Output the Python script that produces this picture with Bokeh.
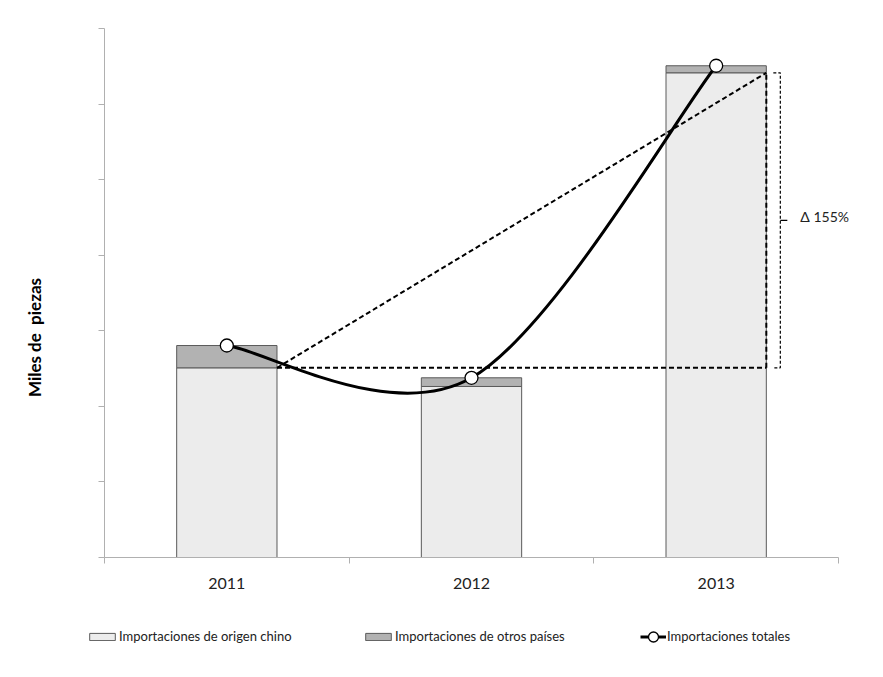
from bokeh.plotting import figure
from bokeh.models import Range1d, FixedTicker, Legend, LegendItem, Label
from bokeh.embed import file_html
from bokeh.resources import INLINE
from bokeh.core.properties import value
import math

# ---- data ----
years = ["2011", "2012", "2013"]
chino = [2510, 2263, 6414]          # Importaciones de origen chino
otros = [295, 115, 93]              # Importaciones de otros países
y_ticks = [0, 1000, 2000, 3000, 4000, 5000, 6000, 7000]
delta_text = "Δ 155%"
y_label = "Miles de\u00a0 piezas"

FONT = "Lato"
totals = [c + o for c, o in zip(chino, otros)]
n = len(years)
centers = [i + 0.5 for i in range(n)]
bounds = [float(i) for i in range(n + 1)]
bar_w = 0.41

# ---- layout (pixels) ----
FL, FT, FR, FB = 12, 4, 860, 652       # plotting frame edges
AXL, AXR, AXB, AXT = 104, 838, 557, 28  # where the drawn axes sit
px_x = (AXR - AXL) / n                  # px per category
px_y = (AXB - AXT) / (y_ticks[-1] - y_ticks[0])
x_range = Range1d((FL - AXL) / px_x, (FR - AXL) / px_x)
y_range = Range1d(y_ticks[0] - (FB - AXB) / px_y, y_ticks[0] + (AXB - FT) / px_y)

p = figure(frame_width=FR - FL, frame_height=FB - FT, x_range=x_range, y_range=y_range,
           output_backend="svg", toolbar_location=None,
           min_border_left=FL, min_border_right=7, min_border_top=FT, min_border_bottom=8)
p.grid.visible = False
p.outline_line_color = None
p.background_fill_color = "white"

ax_col = "#b0b0b0"
# y axis drawn at x = 0
p.yaxis.fixed_location = 0
p.yaxis.bounds = (y_ticks[0], y_ticks[-1])
p.yaxis.ticker = FixedTicker(ticks=y_ticks, minor_ticks=[])
p.yaxis.major_label_overrides = {t: "" for t in y_ticks}
p.yaxis.major_label_text_font_size = "1px"
p.yaxis.major_label_standoff = 0
p.yaxis.major_tick_out = 6
p.yaxis.major_tick_in = 0
p.yaxis.minor_tick_out = 0
p.yaxis.axis_line_color = ax_col
p.yaxis.major_tick_line_color = ax_col

# x axis drawn at y = 0
p.xaxis.fixed_location = 0
p.xaxis.bounds = (0, n)
p.xaxis.ticker = FixedTicker(ticks=centers, minor_ticks=bounds)
p.xaxis.major_label_overrides = {c: "" for c in centers}
p.xaxis.major_label_text_font_size = "1px"
p.xaxis.major_label_standoff = 0
p.xaxis.major_tick_out = 0
p.xaxis.major_tick_in = 0
p.xaxis.minor_tick_out = 6
p.xaxis.minor_tick_in = 0
p.xaxis.axis_line_color = ax_col
p.xaxis.minor_tick_line_color = ax_col

# category labels
p.text(x=centers, y=[y_ticks[0] - 26 / px_y] * n, text=years, text_font=value(FONT),
       text_font_size="16px", text_align="center", text_baseline="middle", text_color="#222222")

# y title
p.add_layout(Label(x=(34 - AXL) / px_x, y=(AXB - 337) / px_y, text=y_label, angle=math.pi / 2,
                   text_align="center", text_baseline="middle", text_font=FONT,
                   text_font_size="17px", text_font_style="bold", text_color="black"))

# bars
r_chino = p.vbar(x=centers, width=bar_w, bottom=0, top=chino,
                 fill_color="#ececec", line_color="#5a5a5a", line_width=1)
r_otros = p.vbar(x=centers, width=bar_w, bottom=chino, top=totals,
                 fill_color="#b2b2b2", line_color="#5a5a5a", line_width=1)

# dashed comparison lines (2011 vs 2013 Chinese imports)
xr0 = centers[0] + bar_w / 2
xr2 = centers[-1] + bar_w / 2
p.segment(x0=[xr0, xr0, xr2], y0=[chino[0], chino[0], chino[0]],
          x1=[xr2, xr2, xr2], y1=[chino[0], chino[-1], chino[-1]],
          line_color="black", line_width=2, line_dash="5 3")

# bracket
bx0 = xr2 + 7 / px_x
bx1 = xr2 + 14 / px_x
bx2 = xr2 + 21 / px_x
ymid = (chino[0] + chino[-1]) / 2
p.line(x=[bx0, bx1, bx1, bx0], y=[chino[-1], chino[-1], chino[0], chino[0]],
       line_color="black", line_width=1.2, line_dash="3 2")
p.segment(x0=[bx1], y0=[ymid], x1=[bx2], y1=[ymid], line_color="black", line_width=1.2)
p.text(x=[xr2 + 34 / px_x], y=[ymid + 4 / px_y], text=[delta_text], text_font=value(FONT),
       text_font_size="14px", text_baseline="middle", text_align="left", text_color="#222222")

# smoothed total line (Catmull-Rom -> cubic Bezier)
x0s, y0s, x1s, y1s, cx0, cy0, cx1, cy1 = [], [], [], [], [], [], [], []
for i in range(n - 1):
    pxp, pyp = (centers[i - 1], totals[i - 1]) if i > 0 else (centers[i], totals[i])
    pxn, pyn = (centers[i + 2], totals[i + 2]) if i + 2 < n else (centers[i + 1], totals[i + 1])
    x0s.append(centers[i]); y0s.append(totals[i])
    x1s.append(centers[i + 1]); y1s.append(totals[i + 1])
    cx0.append(centers[i] + (centers[i + 1] - pxp) / 6)
    cy0.append(totals[i] + (totals[i + 1] - pyp) / 6)
    cx1.append(centers[i + 1] - (pxn - centers[i]) / 6)
    cy1.append(totals[i + 1] - (pyn - totals[i]) / 6)
r_line = p.bezier(x0=x0s, y0=y0s, x1=x1s, y1=y1s, cx0=cx0, cy0=cy0, cx1=cx1, cy1=cy1,
                  line_color="black", line_width=3)
r_pts = p.scatter(x=centers, y=totals, size=13, marker="circle",
                  fill_color="white", line_color="black", line_width=1.3)

# legends (inside the extended frame, below the axis)
LEG_CY = 636
def mk_legend(label, rends, left_px, gw, gh, h):
    lg = Legend(items=[LegendItem(label=label, renderers=rends)],
                location=(left_px - FL, FB - LEG_CY - h / 2),
                orientation="horizontal", glyph_width=gw, glyph_height=gh,
                label_standoff=1, padding=0, margin=0, spacing=0,
                border_line_color=None, background_fill_alpha=0,
                label_text_font=FONT, label_text_font_size="13px",
                label_text_color="#222222", label_height=gh)
    p.add_layout(lg)

mk_legend("Importaciones de origen chino", [r_chino], 86, 32, 9, 16)
mk_legend("Importaciones de otros países", [r_otros], 362, 32, 9, 16)
mk_legend("Importaciones totales", [r_line, r_pts], 640, 26, 25, 25)

open("out.html", "w").write(file_html(p, INLINE))
